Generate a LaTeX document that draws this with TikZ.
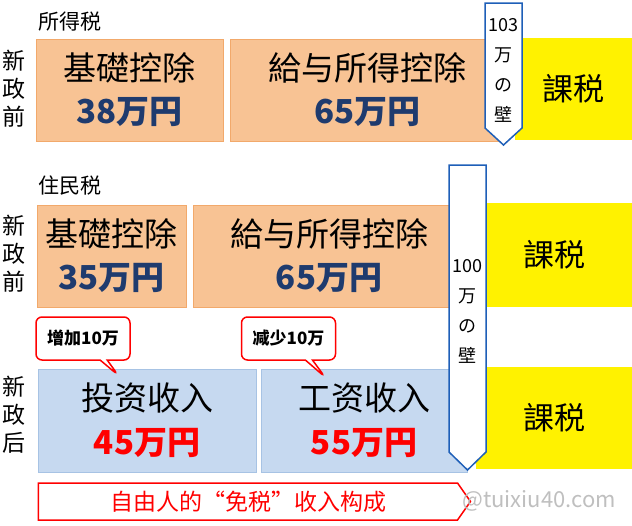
\documentclass[tikz,border=0pt]{standalone}
\usepackage{fontspec}
\setmainfont{Noto Sans CJK SC}
\usetikzlibrary{positioning,shapes.symbols,shapes.callouts}

\definecolor{deductfill}{HTML}{F8C394}
\definecolor{deductline}{HTML}{F2A96B}
\definecolor{incomefill}{HTML}{C6D9F0}
\definecolor{incomeline}{HTML}{A7C3E4}
\definecolor{wallblue}{HTML}{1E5FB8}
\definecolor{numblue}{HTML}{1F3B6E}

\newcommand{\fsz}[2]{\fontsize{#1}{#2}\selectfont}

\begin{document}
\begin{tikzpicture}[x=1pt, y=-1pt,
    deduct/.style={rectangle, draw=deductline, fill=deductfill, minimum height=102pt, align=center, font=\fsz{33}{43}},
    income/.style={rectangle, draw=incomeline, fill=incomefill, minimum height=103pt, align=center, font=\fsz{33}{44}},
    taxed/.style={rectangle, fill=yellow, minimum height=102pt, font=\fsz{31}{36}},
    wall/.style={draw=wallblue, line width=1.5pt, fill=white, line join=miter},
    walltext/.style={align=center, inner sep=0pt, font=\fsz{18}{30}},
    note/.style={rectangle callout, draw=red, line width=1.5pt, fill=white, rounded corners=6pt, minimum width=94pt, minimum height=43pt, font=\bfseries\fsz{17}{19}},
    caption/.style={signal, signal to=east, signal pointer angle=110, draw=red, line width=1.5pt, fill=white, minimum width=432pt, minimum height=37pt, text=red, font=\fsz{23}{25}},
    rowlabel/.style={align=center, font=\fsz{23}{28}},
    taxname/.style={anchor=west, font=\fsz{21}{24}}
]
\useasboundingbox (0,0) rectangle (632,525);

% Income tax
\node[taxname] (shotoku) at (35,22) {所得税};
\node[rowlabel] (before1) at (14,89) {新\\政\\前};
\node[deduct, minimum width=187pt] (kiso1) at (129.5,90) {基礎控除\\\textbf{\color{numblue}38万円}};
\node[deduct, minimum width=275pt] (kyuyo1) at (367.5,90) {給与所得控除\\\textbf{\color{numblue}65万円}};
\node[taxed, minimum width=117pt] (kazei1) at (573.5,89) {課税};
\draw[wall] (485,3) -- (522,3) -- (522,128) -- (503.5,145) -- (485,128) -- cycle;
\node[walltext] (wall1) at (503.5,70) {103\\万\\の\\壁};

% Resident tax
\node[taxname] (jumin) at (35,186) {住民税};
\node[rowlabel] (before2) at (14,254) {新\\政\\前};
\node[deduct, minimum width=149pt] (kiso2) at (111.5,256) {基礎控除\\\textbf{\color{numblue}35万円}};
\node[deduct, minimum width=272pt] (kyuyo2) at (329,256) {給与所得控除\\\textbf{\color{numblue}65万円}};
\node[taxed, minimum width=156pt, minimum height=104pt] (kazei2) at (554,255) {課税};

% After
\node[rowlabel] (after) at (14,415) {新\\政\\后};
\node[income, minimum width=218pt] (invest) at (147,420.5) {投资收入\\\textbf{\color{red}45万円}};
\node[income, minimum width=206pt] (salary) at (364,420.5) {工资收入\\\textbf{\color{red}55万円}};
\node[taxed, minimum width=156pt] (kazei3) at (554,418) {課税};
\draw[wall] (449,165) -- (486,165) -- (486,452) -- (467.5,470) -- (449,452) -- cycle;
\node[walltext] (wall2) at (467.5,311) {100\\万\\の\\壁};

% Callouts
\node[note, callout absolute pointer={(118,375)}] (plus) at (83,338.5) {增加10万};
\node[note, callout absolute pointer={(325,377)}] (minus) at (288.5,338.5) {减少10万};

% Caption
\node[caption] (total) at (248,501.5) {自由人的“免税”收入构成};
\node[text=black!25, font=\fsz{22}{24}] (mark) at (539,501) {@tuixiu40.com};

\end{tikzpicture}
\end{document}
